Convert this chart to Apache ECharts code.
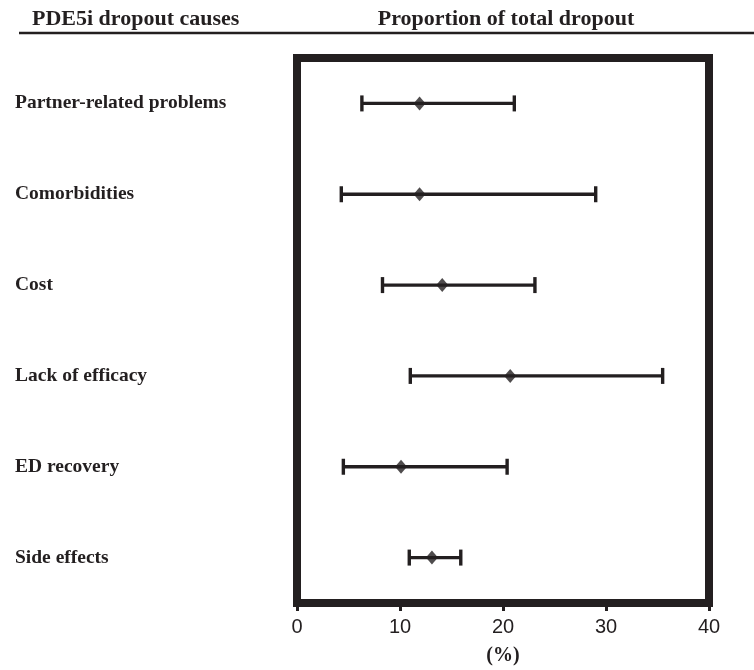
<!DOCTYPE html>
<html>
<head>
<meta charset="utf-8">
<script src="https://cdn.jsdelivr.net/npm/echarts@6/dist/echarts.min.js"></script>
<style>html,body{margin:0;padding:0;background:#fff}#chart{width:754px;height:670px}</style>
</head>
<body>
<div id="chart"></div>
<script>
const categories = ["Partner-related problems", "Comorbidities", "Cost", "Lack of efficacy", "ED recovery", "Side effects"];
const estimate = [11.9, 11.9, 14.1, 20.7, 10.1, 13.1];
const lower = [6.3, 4.3, 8.3, 11.0, 4.5, 10.9];
const upper = [21.1, 29.0, 23.1, 35.5, 20.4, 15.9];
const xTicks = [0, 10, 20, 30, 40];
const headerLeft = "PDE5i dropout causes";
const headerRight = "Proportion of total dropout";
const xUnit = "(%)";

const ink = '#231f20';
const ciData = categories.map((c, i) => [lower[i], upper[i], i]);
const pointData = categories.map((c, i) => [estimate[i], i]);

const chart = echarts.init(document.getElementById('chart'), null, {renderer: 'canvas'});
chart.setOption({
  animation: false,
  backgroundColor: '#fff',
  grid: {
    left: 297, right: 45, top: 58, bottom: 67,
    show: true, borderWidth: 8, borderColor: ink, backgroundColor: 'transparent'
  },
  xAxis: {
    type: 'value', min: xTicks[0], max: xTicks[xTicks.length - 1], interval: 10,
    axisLine: {show: false},
    axisTick: {show: true, length: 8, lineStyle: {color: ink, width: 3}},
    splitLine: {show: false},
    axisLabel: {fontFamily: 'Liberation Sans, Arial, sans-serif', fontSize: 20, color: ink, margin: 14}
  },
  yAxis: {
    type: 'category', inverse: true, data: categories,
    axisLine: {show: false}, axisTick: {show: false}, splitLine: {show: false},
    axisLabel: {
      align: 'left', margin: 282,
      fontFamily: 'Liberation Serif, Times New Roman, serif', fontWeight: 'bold',
      fontSize: 19.5, color: ink
    }
  },
  series: [
    {
      type: 'custom',
      data: ciData,
      encode: {x: [0, 1], y: 2},
      renderItem: function (params, api) {
        const idx = api.value(2);
        const lo = api.coord([api.value(0), idx]);
        const hi = api.coord([api.value(1), idx]);
        const h = 8;
        const st = {stroke: ink, lineWidth: 3.4};
        return {
          type: 'group',
          children: [
            {type: 'line', shape: {x1: lo[0], y1: lo[1], x2: hi[0], y2: hi[1]}, style: st},
            {type: 'line', shape: {x1: lo[0], y1: lo[1] - h, x2: lo[0], y2: lo[1] + h}, style: st},
            {type: 'line', shape: {x1: hi[0], y1: hi[1] - h, x2: hi[0], y2: hi[1] + h}, style: st}
          ]
        };
      },
      z: 2
    },
    {
      type: 'scatter',
      data: pointData,
      symbol: 'diamond',
      symbolSize: [12, 14],
      itemStyle: {color: ink},
      z: 3
    }
  ],
  graphic: [
    {type: 'text', left: 32, top: 8, style: {text: headerLeft, font: 'bold 22px "Liberation Serif", serif', fill: ink}},
    {type: 'text', x: 506, y: 8, style: {text: headerRight, font: 'bold 22px "Liberation Serif", serif', fill: ink, textAlign: 'center'}},
    {type: 'line', shape: {x1: 19, y1: 33, x2: 754, y2: 33}, style: {stroke: ink, lineWidth: 2.5}},
    {type: 'text', x: 503, y: 646, style: {text: xUnit, font: 'bold 20px "Liberation Serif", serif', fill: ink, textAlign: 'center'}}
  ]
});
</script>
</body>
</html>
